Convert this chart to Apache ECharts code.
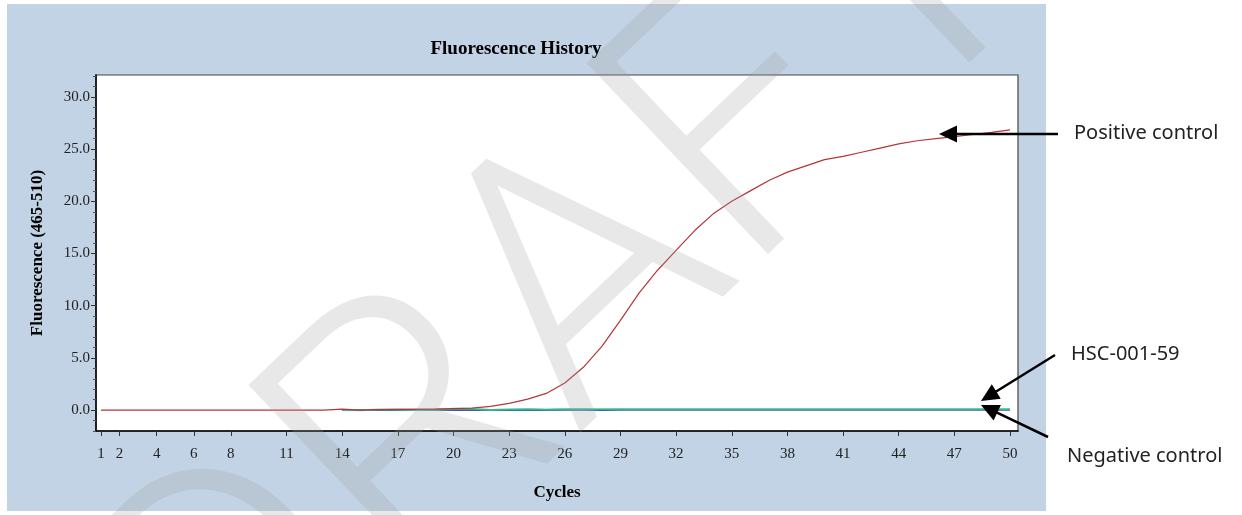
<!DOCTYPE html>
<html>
<head>
<meta charset="utf-8">
<script src="https://cdn.jsdelivr.net/npm/echarts@6/dist/echarts.min.js"></script>
<style>
html,body{margin:0;padding:0;background:#fff;}
#chart{width:1242px;height:515px;}
</style>
</head>
<body>
<div id="chart"></div>
<script>
// ---- data ----
const cycles = [1,2,3,4,5,6,7,8,9,10,11,12,13,14,15,16,17,18,19,20,21,22,23,24,25,26,27,28,29,30,31,32,33,34,35,36,37,38,39,40,41,42,43,44,45,46,47,48,49,50];
const positiveControl = [0,0,0,0,0,0,0,0,0,0,0,0,0,0.1,0.0,0.05,0.08,0.08,0.1,0.15,0.2,0.35,0.65,1.05,1.6,2.6,4.1,6.1,8.6,11.2,13.4,15.3,17.2,18.8,20.0,21.0,22.0,22.8,23.4,24.0,24.3,24.7,25.1,25.5,25.8,26.0,26.2,26.4,26.6,26.85];
const sampleCycles = [14,15,16,17,18,19,20,21,22,23,24,25,26,27,28,29,30,31,32,33,34,35,36,37,38,39,40,41,42,43,44,45,46,47,48,49,50];
const negativeControl = [0.02,0.02,0.0,0.02,0.03,0.03,0.02,0.03,0.0,0.02,0.03,0.02,0.03,0.03,0.02,0.03,0.03,0.03,0.03,0.03,0.03,0.03,0.03,0.03,0.03,0.03,0.03,0.03,0.03,0.03,0.03,0.03,0.03,0.03,0.03,0.03,0.03];
const hsc00159 = [0.0,-0.02,0.05,0.05,0.0,0.05,0.12,0.12,0.02,0.08,0.1,0.05,0.1,0.1,0.1,0.1,0.1,0.1,0.1,0.1,0.1,0.1,0.1,0.1,0.1,0.1,0.1,0.1,0.1,0.1,0.1,0.1,0.1,0.1,0.1,0.1,0.1];
const xTickLabels = [1,2,4,6,8,11,14,17,20,23,26,29,32,35,38,41,44,47,50];
const yTickLabels = [0,5,10,15,20,25,30];
const yMinorTicks = [-2,-1,1,2,3,4,6,7,8,9,11,12,13,14,16,17,18,19,21,22,23,24,26,27,28,29,31,32];
const titleText = 'Fluorescence History';
const xName = 'Cycles';
const yName = 'Fluorescence (465-510)';
const annotations = ['Positive control', 'HSC-001-59', 'Negative control'];
const watermark = 'DRAFT';

const pairs = (xs, ys) => xs.map((x, i) => [x, ys[i]]);

const serif = "'Liberation Serif','DejaVu Serif',serif";
const sans = "'Noto Sans','DejaVu Sans',sans-serif";

function arrow(x1, y1, x2, y2) {
  const dx = x2 - x1, dy = y2 - y1;
  const len = Math.sqrt(dx * dx + dy * dy);
  const ux = dx / len, uy = dy / len;
  const hl = 18, hw = 8.5;
  const bx = x2 - ux * hl, by = y2 - uy * hl;
  return [
    { type: 'line', silent: true, z: 50,
      shape: { x1: x1, y1: y1, x2: bx + ux * 2, y2: by + uy * 2 },
      style: { stroke: '#000', lineWidth: 2.5 } },
    { type: 'polygon', silent: true, z: 50,
      shape: { points: [[x2, y2], [bx - uy * hw, by + ux * hw], [bx + uy * hw, by - ux * hw]] },
      style: { fill: '#000' } }
  ];
}

const chart = echarts.init(document.getElementById('chart'));
const option = {
  backgroundColor: '#ffffff',
  animation: false,
  grid: {
    left: 96, top: 75, right: 224, bottom: 84,
    show: true, backgroundColor: '#ffffff', borderColor: '#444', borderWidth: 1.2
  },
  xAxis: {
    type: 'value', min: 0.73, max: 50.43,
    name: xName, nameLocation: 'middle', nameGap: 53,
    nameTextStyle: { fontFamily: serif, fontWeight: 'bold', fontSize: 17, color: '#000' },
    axisLine: { show: true, onZero: false, lineStyle: { color: '#000', width: 1.5 } },
    axisTick: { show: true, inside: false, length: 5, customValues: xTickLabels, lineStyle: { color: '#333' } },
    axisLabel: { customValues: xTickLabels, margin: 16, fontFamily: serif, fontSize: 15, color: '#222' },
    splitLine: { show: false }
  },
  yAxis: [{
    type: 'value', min: -2, max: 32.1,
    name: yName, nameLocation: 'middle', nameGap: 50, nameRotate: 90,
    nameTextStyle: { fontFamily: serif, fontWeight: 'bold', fontSize: 17, color: '#000' },
    axisLine: { show: true, onZero: false, lineStyle: { color: '#000', width: 1.5 } },
    axisTick: { show: true, inside: false, length: 5, customValues: yTickLabels, lineStyle: { color: '#333' } },
    axisLabel: { customValues: yTickLabels, margin: 6, fontFamily: serif, fontSize: 15, color: '#222',
      formatter: v => v.toFixed(1) },
    splitLine: { show: false }
  }, {
    type: 'value', min: -2, max: 32.1, position: 'left',
    axisLine: { show: false },
    axisTick: { show: true, inside: false, length: 3, customValues: yMinorTicks, lineStyle: { color: '#555' } },
    axisLabel: { show: false },
    splitLine: { show: false }
  }],
  series: [
    { name: annotations[2], type: 'line', data: pairs(sampleCycles, negativeControl), showSymbol: false,
      lineStyle: { color: '#3a5fa6', width: 2 }, z: 3 },
    { name: annotations[1], type: 'line', data: pairs(sampleCycles, hsc00159), showSymbol: false,
      lineStyle: { color: '#3fcf8c', width: 2, opacity: 0.75 }, z: 4 },
    { name: annotations[0], type: 'line', data: pairs(cycles, positiveControl), showSymbol: false,
      lineStyle: { color: '#b5353b', width: 1.2 }, z: 5 }
  ],
  graphic: [
    { type: 'rect', silent: true, z: -100, shape: { x: 7, y: 4, width: 1039, height: 507 },
      style: { fill: '#c1d3e4' } },
    { type: 'text', silent: true, z: 40, x: 516, y: 49,
      style: { text: titleText, font: "bold 19px " + serif, fill: '#000', align: 'center', verticalAlign: 'middle' } },
    { type: 'text', silent: true, z: 40, x: 1074, y: 133,
      style: { text: annotations[0], font: "20px " + sans, fill: '#222', align: 'left', verticalAlign: 'middle' } },
    { type: 'text', silent: true, z: 40, x: 1071, y: 354,
      style: { text: annotations[1], font: "20px " + sans, fill: '#222', align: 'left', verticalAlign: 'middle' } },
    { type: 'text', silent: true, z: 40, x: 1067, y: 456,
      style: { text: annotations[2], font: "20px " + sans, fill: '#222', align: 'left', verticalAlign: 'middle' } },
    ...arrow(1058, 134, 939, 134),
    ...arrow(1055, 355, 981, 401),
    ...arrow(1048, 437, 981, 405),
    { type: 'text', silent: true, z: 60, x: 580, y: 305, rotation: 0.76,
      style: { text: watermark, font: "300 370px Roboto,'Open Sans','Noto Sans',sans-serif", fill: 'rgba(160,160,160,0.24)',
        align: 'center', verticalAlign: 'middle' } }
  ]
};
chart.setOption(option);
</script>
</body>
</html>
